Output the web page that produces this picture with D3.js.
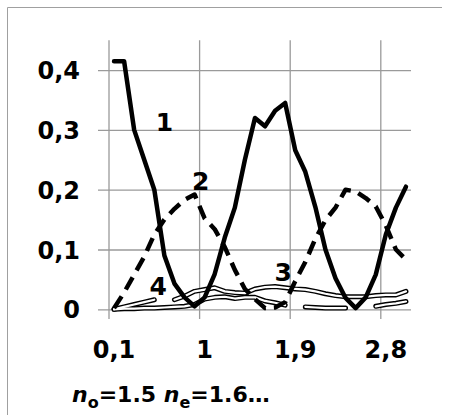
<!DOCTYPE html>
<html>
<head>
<meta charset="utf-8">
<script src="https://cdn.jsdelivr.net/npm/d3@7"></script>
<style>
  body { margin: 0; background: #fff; }
  svg { display: block; font-family: "DejaVu Sans", sans-serif; font-weight: bold; }
</style>
</head>
<body>
<div id="chart"></div>
<script>
const categories = [0.1, 0.2, 0.3, 0.4, 0.5, 0.6, 0.7, 0.8, 0.9, 1.0,
  1.1, 1.2, 1.3, 1.4, 1.5, 1.6, 1.7, 1.8, 1.9, 2.0,
  2.1, 2.2, 2.3, 2.4, 2.5, 2.6, 2.7, 2.8, 2.9, 3.0];

const curve1 = [0.415, 0.415, 0.30, 0.25, 0.20, 0.09, 0.043, 0.02, 0.005, 0.02,
  0.059, 0.12, 0.17, 0.25, 0.32, 0.306, 0.332, 0.345, 0.266, 0.23,
  0.171, 0.10, 0.052, 0.019, 0.002, 0.02, 0.058, 0.125, 0.17, 0.205];

const curve2 = [0.002, 0.028, 0.058, 0.088, 0.125, 0.15, 0.168, 0.183, 0.192, 0.152,
  0.134, 0.104, 0.066, 0.034, 0.017, 0.002, 0.003, 0.012, 0.047, 0.079,
  0.118, 0.149, 0.17, 0.2, 0.197, 0.186, 0.172, 0.14, 0.1, 0.083];

const curve3 = [0, 0.004, 0.008, 0.012, 0.016, null, 0.016, 0.022, 0.03, 0.033,
  0.036, 0.03, 0.028, 0.027, 0.034, 0.037, 0.038, 0.036, 0.034, 0.033,
  0.03, 0.026, 0.023, 0.021, 0.021, 0.021, 0.023, 0.024, 0.024, 0.03];

const curve4 = [0, 0.001, 0.001, 0.002, 0.002, 0.003, 0.004, 0.005, 0.008, 0.017,
  0.02, 0.021, 0.018, 0.02, 0.02, 0.014, 0.011, 0.007, null, 0.004,
  0.003, 0.002, 0.002, 0.002, null, null, 0.005, 0.008, 0.01, 0.013];

const yTicks = [0, 0.1, 0.2, 0.3, 0.4];
const xTicks = [0.1, 1.0, 1.9, 2.8];

// curve number labels: [text, category index, value]
const curveLabels = [["1", 5.0, 0.313], ["2", 8.6, 0.215], ["3", 16.8, 0.062], ["4", 4.4, 0.039]];

const width = 453, height = 415;
const comma = d => String(d).replace(".", ",");

const svg = d3.select("#chart").append("svg")
  .attr("width", width)
  .attr("height", height);

// outer frame (left + top only visible)
svg.append("path")
  .attr("d", "M7.5,415V7.5H442")
  .attr("fill", "none")
  .attr("stroke", "#a0a0a0")
  .attr("stroke-width", 1);

const x = d3.scaleBand()
  .domain(categories)
  .range([109, 411])
  .padding(0);

const y = d3.scaleLinear()
  .domain([0, 0.45])
  .range([309.3, 40.2]);

const cx = d => x(d) + x.bandwidth() / 2;
// fractional category index -> pixel, for free labels
const xi = d3.scaleLinear()
  .domain([0, categories.length - 1])
  .range([cx(categories[0]), cx(categories[categories.length - 1])]);

// vertical gridlines at every 9th category boundary
svg.append("g")
  .selectAll("line")
  .data([0, 9, 18, 27])
  .join("line")
  .attr("x1", i => x(categories[i]))
  .attr("x2", i => x(categories[i]))
  .attr("y1", y(0.45))
  .attr("y2", 319)
  .attr("stroke", "#9a9a9a")
  .attr("stroke-width", 1.3);

// y axis: horizontal gridlines + labels
const yAxis = svg.append("g")
  .attr("transform", "translate(411,0)")
  .call(d3.axisLeft(y).tickValues(yTicks).tickSize(313).tickPadding(18)
    .tickFormat(d => d === 0 ? "0" : comma(d3.format(".1f")(d))));
yAxis.select(".domain").remove();
yAxis.selectAll(".tick line").attr("stroke", "#9a9a9a").attr("stroke-width", 1.3);
yAxis.selectAll(".tick text")
  .attr("fill", "#000")
  .attr("font-size", 24)
  .attr("font-family", "DejaVu Sans")
  .attr("font-weight", "bold")
  .attr("dy", "0.36em");

// x axis labels
const xAxis = svg.append("g")
  .attr("transform", "translate(0,309.3)")
  .call(d3.axisBottom(x).tickValues(xTicks).tickSize(0).tickPadding(32)
    .tickFormat(d => comma(d)));
xAxis.select(".domain").remove();
xAxis.selectAll(".tick text")
  .attr("fill", "#000")
  .attr("font-size", 24)
  .attr("font-family", "DejaVu Sans")
  .attr("font-weight", "bold");

const line = d3.line()
  .defined(d => d[1] != null)
  .x(d => cx(d[0]))
  .y(d => y(d[1]));

const pts = arr => categories.map((c, i) => [c, arr[i]]);

// double (outlined) lines 3 and 4
[curve4, curve3].forEach(arr => {
  svg.append("path")
    .attr("d", line(pts(arr)))
    .attr("fill", "none")
    .attr("stroke", "#000")
    .attr("stroke-width", 5)
    .attr("stroke-linejoin", "round")
    .attr("stroke-linecap", "round");
});
[curve4, curve3].forEach(arr => {
  svg.append("path")
    .attr("d", line(pts(arr)))
    .attr("fill", "none")
    .attr("stroke", "#fff")
    .attr("stroke-width", 2.2)
    .attr("stroke-linejoin", "round")
    .attr("stroke-linecap", "round");
});

// dashed line 2
svg.append("path")
  .attr("d", line(pts(curve2)))
  .attr("fill", "none")
  .attr("stroke", "#000")
  .attr("stroke-width", 4.5)
  .attr("stroke-dasharray", "14,8")
  .attr("stroke-linejoin", "round");

// solid line 1
svg.append("path")
  .attr("d", line(pts(curve1)))
  .attr("fill", "none")
  .attr("stroke", "#000")
  .attr("stroke-width", 4.5)
  .attr("stroke-linejoin", "round")
  .attr("stroke-linecap", "round");

// curve numbers
svg.append("g")
  .selectAll("text")
  .data(curveLabels)
  .join("text")
  .attr("x", d => xi(d[1]))
  .attr("y", d => y(d[2]))
  .attr("dy", "0.36em")
  .attr("text-anchor", "middle")
  .attr("font-size", 25)
  .text(d => d[0]);

// bottom caption
const cap = svg.append("text")
  .attr("x", 72)
  .attr("y", 402)
  .attr("font-size", 22);
cap.append("tspan").attr("font-style", "italic").text("n");
cap.append("tspan").attr("font-size", 16).attr("dy", 6).text("o");
cap.append("tspan").attr("dy", -6).text("=1.5 ");
cap.append("tspan").attr("font-style", "italic").text("n");
cap.append("tspan").attr("font-size", 16).attr("dy", 6).text("e");
cap.append("tspan").attr("dy", -6).text("=1.6…");
</script>
</body>
</html>
